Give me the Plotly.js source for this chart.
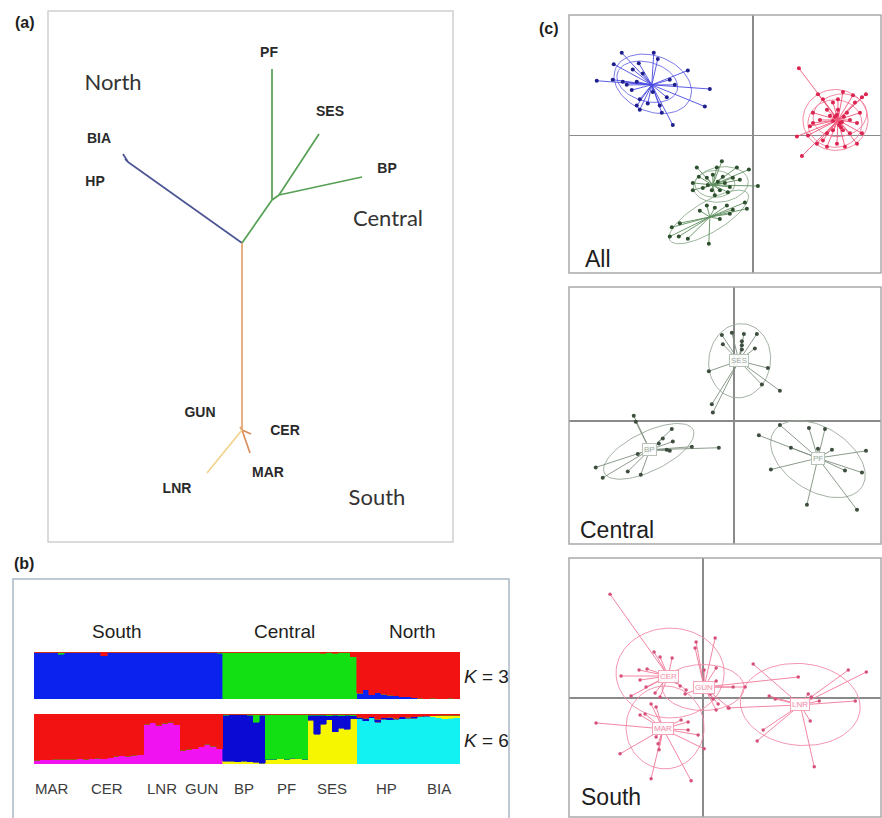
<!DOCTYPE html>
<html><head><meta charset="utf-8">
<script src="https://cdn.plot.ly/plotly-3.0.1.min.js"></script>
<style>html,body{margin:0;padding:0;background:#fff}#chart{width:882px;height:818px}</style>
</head><body><div id="chart"></div>
<script>
// ================= (a) neighbour-joining tree =================
const treeNodes  = ['root','N1','BIA','HP','C1','PF','C2','SES','BP','S1','GUN','CER','MAR','LNR'];
const treeParent = [null,'root','N1','N1','root','C1','C1','C2','C2','root','S1','S1','S1','S1'];
const treeX = [0,-11.4,-11.9,-11.7,3.0,3.0,3.7,7.7,12.0,0,-0.2,0.9,0.8,-3.5];
const treeY = [0,8.1,8.9,8.4,4.3,17.4,4.8,10.9,6.6,-18.7,-18.4,-19.1,-21.0,-23.0];
const treeBranchGroup = [null,'North','North','North','Central','Central','Central','Central','Central','South','South','SouthB','SouthB','SouthC'];
const tipLabels = ['PF','SES','BP','BIA','HP','GUN','CER','MAR','LNR'];
const tipLabelX = [2.7,8.8,14.5,-14.3,-14.7,-4.2,4.3,2.6,-6.5];
const tipLabelY = [19.0,13.1,7.4,10.4,6.1,-17.0,-18.8,-23.0,-24.6];
const treeRegions = ['North','Central','South'];
const treeRegionX = [-12.9,14.6,13.5];
const treeRegionY = [15.9,2.3,-25.6];

// ================= (b) STRUCTURE membership =================
const popNames = ['MAR','CER','LNR','GUN','BP','PF','SES','HP','BIA'];
const popSizes = [6,12,6,7,7,7,8,10,7];
const structRegions = ['South','Central','North'];
// K = 3 (per individual block, populations in order above)
const k3Blue = [1,1,1,1,0.95,1, 1,1,1,1,1,0.92,1,1,1,1,1,1, 1,1,1,1,1,1, 1,1,1,1,1,1,0.97,
  0,0,0,0,0,0,0, 0,0,0,0,0,0,0, 0,0,0,0,0,0,0,0,
  0.12,0.2,0.09,0.13,0.1,0.08,0.07,0.05,0.05,0.03, 0.02,0.01,0.02,0.01,0.01,0.02,0.01];
const k3Green = [0,0,0,0,0.05,0, 0,0,0,0,0,0,0,0,0,0,0,0, 0,0,0,0,0,0, 0,0,0,0,0,0,0.03,
  1,1,1,1,1,1,1, 1,1,1,1,1,1,1, 1,1,0.97,1,0.97,1,1,0.9,
  0,0,0,0,0,0,0,0,0,0, 0,0,0,0,0,0,0];
const k3Red = [0,0,0,0,0,0, 0,0,0,0,0,0.08,0,0,0,0,0,0, 0,0,0,0,0,0, 0,0,0,0,0,0,0,
  0,0,0,0,0,0,0, 0,0,0,0,0,0,0, 0,0,0.03,0,0.03,0,0,0.1,
  0.88,0.8,0.91,0.87,0.9,0.92,0.93,0.95,0.95,0.97, 0.98,0.99,0.98,0.99,0.99,0.98,0.99];
// K = 6
const k6Magenta = [0.08,0.09,0.09,0.1,0.1,0.1, 0.1,0.11,0.1,0.11,0.12,0.11,0.13,0.16,0.17,0.16,0.18,0.19,
  0.8,0.83,0.78,0.82,0.84,0.79, 0.28,0.3,0.31,0.35,0.4,0.36,0.31,
  0,0,0,0,0,0,0, 0,0,0,0,0,0,0, 0,0,0,0,0,0,0,0, 0,0,0,0,0,0,0,0,0,0, 0,0,0,0,0,0,0];
const k6Cyan = [0,0,0,0,0,0, 0,0,0,0,0,0,0,0,0,0,0,0, 0,0,0,0,0,0, 0,0,0,0,0,0,0,
  0,0,0,0,0,0,0, 0,0,0,0,0,0,0, 0,0,0,0,0,0,0,0,
  0.91,0.87,0.93,0.84,0.9,0.89,0.9,0.91,0.92,0.92, 0.95,0.96,0.95,0.93,0.91,0.92,0.93];
const k6Yellow = [0,0,0,0,0,0, 0,0,0,0,0,0,0,0,0,0,0,0, 0,0,0,0,0,0, 0,0,0,0,0,0,0,
  0.06,0.06,0.05,0.06,0.05,0.04,0.02, 0.1,0.1,0.11,0.1,0.12,0.11,0.1,
  0.88,0.6,0.8,0.89,0.65,0.72,0.7,0.91,
  0,0,0,0,0,0,0,0,0,0, 0,0,0.02,0.05,0.07,0.06,0.05];
const k6Blue = [0,0,0,0,0,0, 0,0,0,0,0,0,0,0,0,0,0,0, 0,0,0,0,0,0, 0,0,0,0,0,0,0,
  0.92,0.94,0.95,0.93,0.93,0.8,0.96, 0,0,0,0,0,0,0,
  0.1,0.38,0.18,0.08,0.33,0.25,0.28,0.06,
  0.03,0.05,0.02,0.06,0.03,0.05,0.02,0.04,0.02,0.03, 0.01,0.01,0,0,0,0,0];
const k6Green = [0,0,0,0,0,0, 0,0,0,0,0,0,0,0,0,0,0,0, 0,0,0,0,0,0, 0,0,0,0,0,0,0,
  0.02,0,0,0.01,0.02,0.16,0.02, 0.9,0.9,0.89,0.9,0.88,0.89,0.9,
  0.02,0.02,0.02,0.03,0.02,0.03,0.02,0.03,
  0,0,0,0,0,0,0,0,0,0, 0,0,0,0,0,0,0];
const k6Red = [0.92,0.91,0.91,0.9,0.9,0.9, 0.9,0.89,0.9,0.89,0.88,0.89,0.87,0.84,0.83,0.84,0.82,0.81,
  0.2,0.17,0.22,0.18,0.16,0.21, 0.72,0.7,0.69,0.65,0.6,0.64,0.69,
  0,0,0,0,0,0,0, 0,0,0,0,0,0,0, 0,0,0,0,0,0,0,0,
  0.06,0.08,0.05,0.1,0.07,0.06,0.08,0.05,0.06,0.05, 0.04,0.03,0.03,0.02,0.02,0.02,0.02];

// ================= (c) DAPC scatter =================
// All
const allNorthX = [-13.1,-9.9,-11.4,-9.5,-13.9,-12.0,-6.5,-15.6,-14.0,-12.6,-7.8,-4.3,-12.1,-11.6,-11.3,-8.6,-4.8,-11.6,-11.3,-9.1,-10.5,-8.0,-9.3,-13.0,-11.0,-8.3,-10.0];
const allNorthY = [8.0,8.0,7.0,7.4,6.9,6.4,6.3,5.3,5.4,4.9,4.9,4.5,4.4,5.2,3.5,3.7,2.8,2.9,2.5,2.2,3.1,1.0,2.9,5.2,6.0,5.4,4.2];
const allNorthCentre = [-10.1,4.9];
const allSouthX = [4.6,6.5,7.0,9.0,10.0,10.9,11.3,10.2,6.0,7.4,8.0,6.7,7.7,9.4,10.4,10.9,9.7,9.0,7.4,7.0,6.4,5.5,4.4,4.9,7.4,8.4,9.2,10.4,6.0,8.7,8.0,9.7,8.5,10.7,8.5,5.7,8.2,8.9,8.6,8.0,9.1,8.4,8.8];
const allSouthY = [6.5,4.0,3.5,4.2,3.9,3.7,4.0,3.2,2.2,2.5,3.2,1.5,1.9,2.2,1.2,0.2,0.2,0.5,0.2,-0.5,-0.8,0.0,-0.1,-2.0,-1.1,-0.8,-1.1,-0.8,1.2,1.2,0.5,1.5,2.5,2.2,3.5,0.9,1.8,1.3,1.0,1.4,1.8,2.0,0.8];
const allSouthCentre = [8.5,1.5];
const allCentralAX = [-5.6,-3.1,-1.6,-0.4,-6.0,-5.4,-4.6,-4.0,-3.5,-2.8,-2.3,-5.0,-4.1,-3.3,-2.5,-6.0,0.5,-2.0,-3.6,-4.5,-3.0,-3.8,-1.3];
const allCentralAY = [-3.1,-2.5,-3.1,-3.3,-4.6,-4.0,-4.1,-3.8,-4.5,-4.6,-5.0,-5.1,-5.3,-5.3,-5.5,-5.3,-4.9,-4.1,-3.1,-4.8,-4.0,-5.8,-4.3];
const allCentralACentre = [-4.0,-4.8];
const allCentralBX = [-4.6,-3.8,-2.6,-2.0,-0.8,-0.6,-5.3,-8.1,-8.3,-7.4,-6.5,-4.4,-3.3,-7.3,-2.3];
const allCentralBY = [-6.8,-7.0,-6.8,-7.2,-6.5,-7.1,-7.3,-8.9,-9.8,-9.8,-10.0,-10.5,-8.1,-8.5,-7.6];
const allCentralBCentre = [-4.3,-7.9];
// Central
const sesX = [-1.2,-0.2,1.0,2.3,-1.1,0.8,0.8,0.8,2.1,-2.5,3.4,2.8,4.6,-2.2,-2.1];
const sesY = [8.3,8.5,8.4,8.4,7.4,7.7,7.3,6.9,7.0,4.8,5.1,3.5,2.9,1.6,0.8];
const sesCentre = [0.5,5.8];
const bpX = [-10.0,-9.8,-6.2,-7.1,-6.1,-7.5,-6.7,-4.2,-1.5,-13.8,-13.1,-10.6,-9.3,-9.6,-6.4];
const bpY = [0.5,-0.1,-0.8,-1.7,-2.0,-2.2,-2.8,-2.5,-2.6,-4.5,-5.5,-4.9,-5.2,-3.2,-2.9];
const bpCentre = [-8.4,-2.8];
const pfX = [4.6,7.5,9.1,2.5,5.7,8.4,9.8,13.2,3.7,11.1,12.8,7.3,12.3];
const pfY = [-0.4,-0.7,-0.8,-1.4,-2.6,-2.7,-2.8,-2.9,-4.7,-4.8,-5.0,-8.1,-8.6];
const pfCentre = [8.4,-3.6];
// South
const cerX = [-9.3,-4.9,-4.3,-3.1,-6.4,-5.6,-8.2,-6.3,-5.7,-7.2,-4.8,-4.3,-2.7,-2.3,-1.7];
const cerY = [10.4,4.6,4.1,4.0,2.8,2.9,2.2,1.8,1.1,0.2,0.5,0.1,1.6,1.2,0.8];
const cerCentre = [-3.5,2.2];
const gunX = [-0.7,-0.8,1.2,1.3,0.1,1.3,3.0,4.2,-1.8,1.3,1.5,2.6,0.7,1.0,9.5];
const gunY = [5.6,5.0,6.0,3.0,2.8,1.7,1.1,1.1,0.4,-1.2,-0.6,-1.0,0.4,-0.1,2.1];
const gunCentre = [0.1,1.1];
const marX = [-10.7,-8.3,-5.2,-1.2,-4.4,-4.5,-6.3,-5.8,-4.7,-1.5,-0.5,0.1,-2.2,-1.5,-5.2,-4.7];
const marY = [-2.5,-5.6,-8.1,-8.3,-5.2,-4.6,-1.7,-1.6,-3.9,-3.2,-3.7,-5.1,-2.2,-2.4,-0.6,-0.9];
const marCentre = [-4.0,-3.1];
const lnrX = [5.0,14.5,16.3,10.5,10.8,15.2,6.6,7.2,6.0,5.4,10.7,11.1,11.6,2.5];
const lnrY = [3.4,2.8,2.6,0.4,0.1,-0.3,0.2,-0.1,-3.2,-4.3,-2.3,-6.9,-0.3,-1.0];
const lnrCentre = [9.7,-0.7];
// dispersion ellipses (centre x, centre y, semi-axis a, semi-axis b, angle deg)
const allNorthEll = [[-10.0,5.0,4.0,2.7,-20],[-10.55,5.2,3.1,1.9,-15]];
const allCentralEll = [[-3.2,-4.75,2.75,1.7,8],[-3.8,-4.7,2.0,1.3,0],[-4.4,-7.9,4.5,1.5,30]];
const allSouthEll = [[8.25,1.5,3.25,2.95,0],[8.2,1.15,2.7,2.3,0],[8.7,1.95,2.7,2.05,10]];
const centralEll = [[0.58,5.8,3.6,3.08,80],[-8.5,-2.95,4.9,1.9,25],[8.4,-3.7,5.15,3.1,-30]];
const southEll = [[-3.3,2.5,5.4,4.5,0],[0.0,1.05,4.1,2.3,0],[-3.8,-2.95,4.15,3.9,90],[9.7,-0.65,6.0,4.1,-5]];

// ================= build =================
const W = 882, H = 818;
const px = v => v / W;
const py = v => 1 - v / H;
const FONT = 'Liberation Sans, Arial, sans-serif';
const traces = [];

// tree branches
const branchColor = {North:'#4d5694', Central:'#55a055', South:'#e5a26e', SouthB:'#d98e5c', SouthC:'#f1d48c'};
treeNodes.forEach((n, i) => {
  const p = treeParent[i];
  if (p === null) return;
  const j = treeNodes.indexOf(p);
  traces.push({type:'scatter', mode:'lines', x:[treeX[j], treeX[i]], y:[treeY[j], treeY[i]],
    xaxis:'x', yaxis:'y', line:{color:branchColor[treeBranchGroup[i]], width:1.7}, hoverinfo:'skip'});
});
traces.push({type:'scatter', mode:'text', x:tipLabelX, y:tipLabelY, text:tipLabels.map(t => '<b>'+t+'</b>'),
  xaxis:'x', yaxis:'y', textfont:{family:FONT, size:14, color:'#2a2a2a'}, hoverinfo:'skip'});
traces.push({type:'scatter', mode:'text', x:treeRegionX, y:treeRegionY, text:treeRegions,
  xaxis:'x', yaxis:'y', textfont:{family:'Lato, Open Sans, sans-serif', size:22, color:'#333'}, hoverinfo:'skip'});

// structure bars
const idx = k3Blue.map((_, i) => i);
function barTrace(vals, color, ax) {
  return {type:'bar', x:idx, y:vals, xaxis:'x'+ax, yaxis:'y'+ax, width:1,
    marker:{color:color, line:{color:color, width:0.6}}, hoverinfo:'skip'};
}
traces.push(barTrace(k3Blue, '#0b22ee', 2), barTrace(k3Green, '#12e012', 2), barTrace(k3Red, '#f21212', 2));
traces.push(barTrace(k6Magenta, '#f012f0', 3), barTrace(k6Cyan, '#12f2f2', 3), barTrace(k6Yellow, '#f6f600', 3),
  barTrace(k6Blue, '#0a0ad4', 3), barTrace(k6Green, '#12e012', 3), barTrace(k6Red, '#f21212', 3));

// DAPC helpers
function starTrace(xs, ys, c, color, ax) {
  const X = [], Y = [];
  xs.forEach((v, i) => { X.push(c[0], v, null); Y.push(c[1], ys[i], null); });
  return {type:'scatter', mode:'lines', x:X, y:Y, xaxis:'x'+ax, yaxis:'y'+ax,
    line:{color:color, width:0.9}, hoverinfo:'skip'};
}
function ellTrace(e, color, ax) {
  const [cx, cy, a, b, deg] = e, t = deg * Math.PI / 180, X = [], Y = [];
  for (let k = 0; k <= 80; k++) {
    const th = 2 * Math.PI * k / 80, ex = a * Math.cos(th), ey = b * Math.sin(th);
    X.push(cx + ex * Math.cos(t) - ey * Math.sin(t));
    Y.push(cy + ex * Math.sin(t) + ey * Math.cos(t));
  }
  return {type:'scatter', mode:'lines', x:X, y:Y, xaxis:'x'+ax, yaxis:'y'+ax,
    line:{color:color, width:0.9}, hoverinfo:'skip'};
}
function ptTrace(xs, ys, color, ax, size) {
  return {type:'scatter', mode:'markers', x:xs, y:ys, xaxis:'x'+ax, yaxis:'y'+ax,
    marker:{color:color, size:size || 4}, hoverinfo:'skip'};
}
// All
allNorthEll.forEach(e => traces.push(ellTrace(e, '#6b6be8', 4)));
allCentralEll.forEach(e => traces.push(ellTrace(e, '#8fae8f', 4)));
allSouthEll.forEach(e => traces.push(ellTrace(e, '#f27d98', 4)));
traces.push(starTrace(allNorthX, allNorthY, allNorthCentre, '#4a4ae2', 4));
traces.push(starTrace(allCentralAX, allCentralAY, allCentralACentre, '#5f8f5f', 4));
traces.push(starTrace(allCentralBX, allCentralBY, allCentralBCentre, '#5f8f5f', 4));
traces.push(starTrace(allSouthX, allSouthY, allSouthCentre, '#f0587a', 4));
traces.push(ptTrace(allNorthX, allNorthY, '#1e1e8c', 4));
traces.push(ptTrace(allCentralAX, allCentralAY, '#2d4f2d', 4));
traces.push(ptTrace(allCentralBX, allCentralBY, '#2d4f2d', 4));
traces.push(ptTrace(allSouthX, allSouthY, '#dc2450', 4));
// Central
centralEll.forEach(e => traces.push(ellTrace(e, '#9aa89a', 5)));
[[sesX, sesY, sesCentre], [bpX, bpY, bpCentre], [pfX, pfY, pfCentre]].forEach(g => {
  traces.push(starTrace(g[0], g[1], g[2], '#7f907f', 5));
  traces.push(ptTrace(g[0], g[1], '#3e4e3e', 5, 4));
});
// South
southEll.forEach(e => traces.push(ellTrace(e, '#f28aa6', 6)));
[[cerX, cerY, cerCentre], [gunX, gunY, gunCentre], [marX, marY, marCentre], [lnrX, lnrY, lnrCentre]].forEach(g => {
  traces.push(starTrace(g[0], g[1], g[2], '#f07898', 6));
  traces.push(ptTrace(g[0], g[1], '#d6507a', 6, 3.5));
});

// axes (no axis lines; frames are drawn as shapes)
const hidden = {showgrid:false, zeroline:false, showticklabels:false, ticks:'', showline:false, fixedrange:true};
function ax(domain, range, anchor, extra) {
  return Object.assign({}, hidden, {domain:domain, range:range, anchor:anchor}, extra || {});
}
const cross = {zeroline:true, zerolinecolor:'#8a8a8a', zerolinewidth:1.5};
const nBars = k3Blue.length;
function frame(x0, y0, x1, y1, color) {
  return {type:'rect', xref:'paper', yref:'paper', x0:px(x0), x1:px(x1), y0:py(y1), y1:py(y0),
    line:{color:color, width:1.5}, fillcolor:'rgba(0,0,0,0)', layer:'above'};
}
const layout = {
  width:W, height:H, margin:{l:0, r:0, t:0, b:0}, paper_bgcolor:'#fff', plot_bgcolor:'rgba(0,0,0,0)',
  showlegend:false, hovermode:false, barmode:'stack', bargap:0,
  xaxis:  ax([px(48), px(453)], [-19.4, 21.1], 'y'),
  yaxis:  ax([py(542), py(11)], [-29.9, 23.2], 'x'),
  xaxis2: ax([px(34), px(460)], [-0.5, nBars - 0.5], 'y2'),
  yaxis2: ax([py(699), py(652)], [0, 1], 'x2'),
  xaxis3: ax([px(34), px(460)], [-0.5, nBars - 0.5], 'y3'),
  yaxis3: ax([py(764), py(714)], [0, 1], 'x3'),
  xaxis4: ax([px(569), px(881)], [-18.37, 12.8], 'y4', cross),
  yaxis4: ax([py(273), py(15)], [-13.33, 11.67], 'x4', cross),
  xaxis5: ax([px(569), px(881)], [-16.47, 14.7], 'y5', cross),
  yaxis5: ax([py(544), py(287)], [-11.9, 12.93], 'x5', cross),
  xaxis6: ax([px(569), px(881)], [-13.4, 17.77], 'y6', cross),
  yaxis6: ax([py(817), py(558)], [-11.93, 14.03], 'x6', cross),
  shapes: [
    frame(48, 11, 453, 542, '#cfcfcf'),
    {type:'rect', xref:'paper', yref:'paper', x0:px(13), x1:px(509), y0:-0.05, y1:py(579),
     line:{color:'#a9b8c6', width:1.5}, fillcolor:'rgba(0,0,0,0)'},
    frame(569, 15, 881, 273, '#a9a9a9'),
    frame(569, 287, 881, 544, '#a9a9a9'),
    frame(569, 558, 881, 817, '#a9a9a9')
  ],
  annotations: []
};
const A = layout.annotations;
function ann(text, x, y, size, opts) {
  A.push(Object.assign({text:text, x:x, y:y, xref:'paper', yref:'paper', showarrow:false,
    xanchor:'center', yanchor:'middle', font:{family:FONT, size:size, color:'#1e1e1e'}}, opts || {}));
}
ann('<b>(a)</b>', px(13), py(23), 16, {xanchor:'left'});
ann('<b>(b)</b>', px(12), py(563), 16, {xanchor:'left'});
ann('<b>(c)</b>', px(537), py(28), 16, {xanchor:'left'});
// structure headers
const structRegionPx = [117, 284, 412];
structRegions.forEach((r, i) => ann(r, px(structRegionPx[i]), py(631), 19));
ann('<i>K</i> = 3', px(462), py(676), 19, {xanchor:'left'});
ann('<i>K</i> = 6', px(462), py(740), 19, {xanchor:'left'});
// population labels centred under their blocks
let start = 0;
popNames.forEach((p, i) => {
  const centre = start + popSizes[i] / 2 - 0.5;
  A.push({text:p, x:centre, y:py(788), xref:'x3', yref:'paper', showarrow:false, xanchor:'center', yanchor:'middle',
    font:{family:FONT, size:15, color:'#3c3c3c'}});
  start += popSizes[i];
});
// DAPC panel names
ann('All', px(583), py(258.5), 23, {xanchor:'left'});
ann('Central', px(578), py(530), 23, {xanchor:'left'});
ann('South', px(579), py(797), 23, {xanchor:'left'});
// DAPC group labels
function grpLabel(t, c, axn, col, border) {
  A.push({text:t, x:c[0], y:c[1], xref:'x'+axn, yref:'y'+axn, showarrow:false, xanchor:'center', yanchor:'middle',
    font:{family:FONT, size:8, color:col}, bgcolor:'rgba(255,255,255,0.9)', bordercolor:border, borderwidth:1, borderpad:1});
}
grpLabel('SES', sesCentre, 5, '#9cac9c', '#b5c2b5');
grpLabel('BP', bpCentre, 5, '#9cac9c', '#b5c2b5');
grpLabel('PF', pfCentre, 5, '#9cac9c', '#b5c2b5');
grpLabel('CER', cerCentre, 6, '#f090aa', '#f2a4b8');
grpLabel('GUN', gunCentre, 6, '#f090aa', '#f2a4b8');
grpLabel('MAR', marCentre, 6, '#f090aa', '#f2a4b8');
grpLabel('LNR', lnrCentre, 6, '#f090aa', '#f2a4b8');

Plotly.newPlot('chart', traces, layout, {staticPlot:true, displayModeBar:false});
</script>
</body></html>
